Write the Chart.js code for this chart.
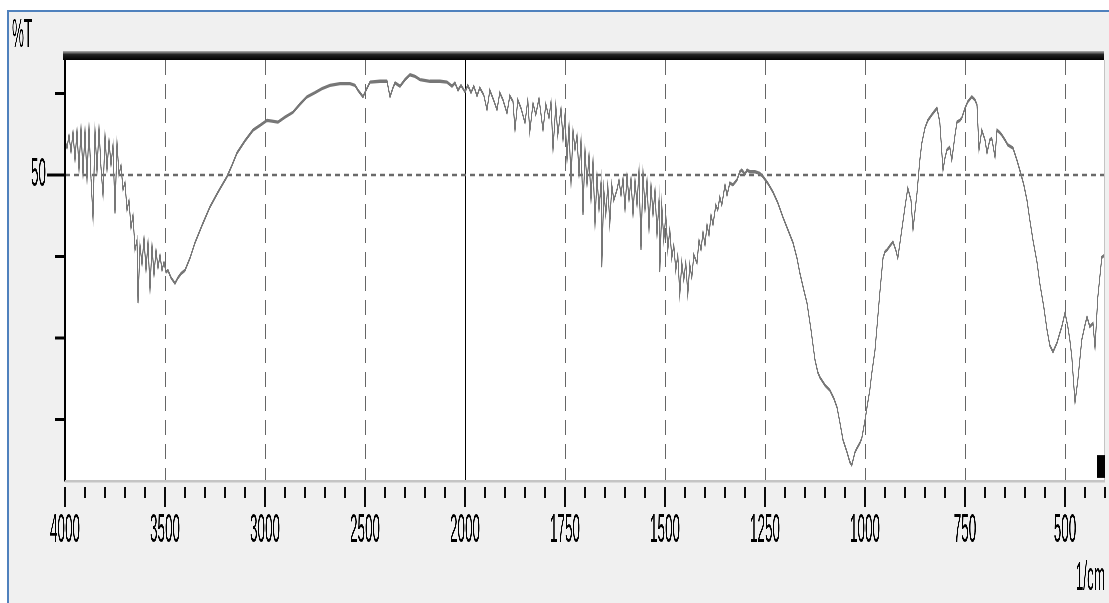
<!DOCTYPE html>
<html>
<head>
<meta charset="utf-8">
<script src="https://cdn.jsdelivr.net/npm/chart.js@4"></script>
<style>
  html, body { margin: 0; padding: 0; background: #fff; }
  #frame {
    position: absolute; left: 7px; top: 10px; right: 0; bottom: 0;
    background: #f0f0f0;
    border-left: 2px solid #4f81bd; border-top: 2px solid #4f81bd;
  }
  /* the spectrum window is drawn at 1/3 height and stretched vertically, like the reference */
  #ir { position: absolute; left: 0; top: 0; transform: scaleY(3); transform-origin: 0 0; }
</style>
</head>
<body>
<div id="frame"></div>
<canvas id="ir" width="1109" height="201"></canvas>
<script>
  // wavenumber (1/cm) and %T
  var wavenumbers = [
    4000,3990,3980,3970,3960,3950,3940,3930,3920,3910,
    3900,3890,3880,3870,3860,3850,3840,3830,3820,3810,
    3800,3790,3780,3770,3760,3750,3740,3730,3720,3710,
    3700,3690,3680,3670,3660,3650,3640,3635,3625,3615,
    3605,3595,3585,3575,3565,3555,3545,3535,3525,3515,
    3505,3495,3485,3470,3450,3435,3420,3400,3375,3350,
    3310,3275,3235,3190,3165,3140,3100,3060,3025,2990,
    2965,2935,2900,2860,2825,2790,2750,2715,2675,2625,
    2575,2550,2535,2510,2495,2475,2425,2390,2375,2360,
    2350,2325,2300,2275,2250,2225,2175,2125,2090,2065,
    2050,2035,2020,2000,
    1993,1985,1978,1970,1963,1953,1945,1938,1930,1920,
    1913,1905,1895,1888,1880,1875,1868,1860,1850,1843,
    1838,1830,1823,1815,1805,1798,1790,1785,1780,1773,
    1768,1760,1755,1750,1745,1740,1735,1730,1725,1720,
    1715,1710,1705,1700,1695,1690,1685,1680,1675,1670,
    1665,1660,1658,1653,1648,1643,1638,1633,1628,1620,
    1615,1610,1605,1600,1595,1590,1585,1580,1575,1570,
    1565,1560,1555,1550,1545,1540,1535,1530,1525,1520,
    1515,1513,1508,1503,1498,1493,1488,1483,1478,1473,
    1468,1463,1458,1453,1448,1443,1438,1433,1428,1420,
    1415,1410,1405,1400,1395,1390,1385,1380,1373,1368,
    1363,1358,1350,1345,1338,1330,1320,1313,1308,1300,
    1295,1288,1275,1263,1255,1243,1230,1218,1205,1193,
    1180,1170,1163,1153,1145,1135,1125,1118,1113,1100,
    1088,1078,1070,1063,1055,1045,1038,1033,1025,1020,
    1013,1008,1000,995,988,983,975,970,963,955,
    950,945,938,930,923,918,910,900,893,885,
    880,870,863,858,850,843,833,825,820,813,
    805,800,795,788,783,775,770,763,758,750,
    743,733,725,720,715,708,700,695,688,683,
    675,670,663,658,650,643,630,620,613,603,
    595,588,580,570,563,553,545,538,530,520,
    513,508,500,493,488,483,475,468,463,458,
    450,445,438,430,425,418,408,400
  ];
  var transmittance = [
    54.3,53.3,54.9,52.8,55.3,51.8,55.5,50.6,55.8,50.0,
    55.5,49.4,55.9,49.6,44.7,55.5,50.4,55.8,50.9,47.5,
    54.9,50.6,54.3,51.2,53.7,45.3,54.0,50.0,51.2,48.2,
    49.1,45.7,46.9,43.5,45.1,40.8,42.0,34.3,41.4,39.0,
    42.3,38.3,41.8,35.9,41.4,37.7,40.8,38.6,40.2,38.3,
    39.3,38.1,38.3,37.4,36.7,37.4,37.9,38.3,39.8,41.7,
    44.1,46.1,47.9,49.8,51.2,52.7,54.2,55.5,56.1,56.7,
    56.6,56.5,57.1,57.7,58.7,59.6,60.1,60.6,61.0,61.2,
    61.2,61.0,60.4,59.6,60.4,61.4,61.5,61.5,59.6,60.7,
    61.3,60.9,61.7,62.3,62.1,61.7,61.5,61.5,61.4,60.9,
    61.3,60.4,61.0,60.2,
    61.0,60.1,60.9,59.7,60.7,59.8,58.0,60.4,59.4,58.0,
    60.1,59.2,57.6,59.7,59.0,55.5,59.2,58.2,56.4,59.2,
    55.3,58.8,57.4,59.4,55.5,58.7,57.0,59.0,53.1,58.6,
    54.9,58.2,54.3,57.4,51.8,56.1,49.0,55.5,53.1,54.9,
    50.0,54.3,45.1,53.1,48.8,52.5,46.9,51.8,43.9,50.0,
    45.7,49.1,38.7,48.2,45.1,48.8,43.9,48.8,46.9,48.2,
    49.4,47.5,49.6,45.7,50.0,46.9,49.6,45.1,49.4,46.3,
    50.6,40.8,50.4,45.7,49.4,43.3,48.8,45.1,48.2,42.6,
    46.9,38.1,46.3,42.0,45.1,40.8,43.3,39.8,41.4,38.3,
    40.2,35.3,39.3,37.1,39.3,35.3,39.0,37.4,40.2,39.2,
    42.0,40.8,43.0,41.4,43.9,42.6,45.1,43.9,46.3,45.7,
    47.3,46.3,48.8,47.5,49.0,48.8,49.4,50.4,50.6,50.1,
    50.6,50.4,50.4,50.2,49.8,49.0,47.9,46.6,44.8,43.3,
    41.7,39.8,38.0,35.9,34.3,31.0,27.3,25.8,25.2,24.2,
    23.6,22.6,21.5,19.7,17.5,16.0,14.8,14.4,16.0,16.5,
    17.1,17.7,19.9,21.5,23.6,25.7,28.5,31.4,35.5,39.8,
    40.6,40.8,41.3,41.8,40.8,39.8,42.6,46.1,48.4,46.9,
    43.3,47.8,51.8,53.9,55.8,56.7,57.4,57.9,58.2,56.5,
    50.6,52.1,53.1,53.4,51.8,54.9,56.5,56.7,57.0,58.2,
    59.0,59.6,59.2,58.6,53.1,55.5,54.3,52.7,54.3,54.5,
    52.2,55.5,55.2,54.9,54.3,53.7,53.3,51.8,50.6,48.8,
    46.9,44.5,42.0,39.3,36.7,33.8,31.0,29.1,28.3,29.4,
    30.6,31.4,33.1,31.4,29.8,27.7,22.1,24.8,27.3,29.8,
    31.6,32.6,31.4,31.8,28.8,35.0,39.9,40.2
  ];

  var xTickLabels = [4000, 3500, 3000, 2500, 2000, 1750, 1500, 1250, 1000, 750, 500];
  var yTickValues = [60, 50, 40, 30, 20];
  var yLabelled = 50;

  // the instrument compresses 4000-2000 at half the scale of 2000-400
  function toPos(w) { return w >= 2000 ? (4000 - w) / 5 : 400 + (2000 - w) / 2.5; }
  function fromPos(p) { return p <= 400 ? 4000 - p * 5 : 2000 - (p - 400) * 2.5; }

  var points = wavenumbers.map(function (w, i) { return { x: toPos(w), y: transmittance[i] }; });
  var labelFont = { family: '"Liberation Sans", Arial, sans-serif', size: 13.5 };

  var irFrame = {
    id: 'irFrame',
    beforeDatasetsDraw: function (chart) {
      var ctx = chart.ctx, a = chart.chartArea, x = chart.scales.x, y = chart.scales.y;
      ctx.save();
      ctx.fillStyle = '#ffffff';
      ctx.fillRect(a.left, a.top, a.right - a.left, a.bottom - a.top);

      ctx.lineWidth = 1.2;
      xTickLabels.forEach(function (w) {
        if (w === 4000) return;
        var px = Math.round(x.getPixelForValue(toPos(w))) + 0.5;
        ctx.beginPath();
        if (w === 2000) { ctx.setLineDash([]); ctx.strokeStyle = '#000'; }
        else { ctx.setLineDash([5, 3]); ctx.strokeStyle = '#666'; }
        ctx.moveTo(px, a.top);
        ctx.lineTo(px, a.bottom);
        ctx.stroke();
      });

      var py = y.getPixelForValue(yLabelled);
      ctx.setLineDash([5, 4]);
      ctx.strokeStyle = '#6a6a6a';
      ctx.lineWidth = 0.9;
      ctx.beginPath();
      ctx.moveTo(a.left, py);
      ctx.lineTo(a.right, py);
      ctx.stroke();
      ctx.restore();
    },
    afterDraw: function (chart) {
      var ctx = chart.ctx, a = chart.chartArea, x = chart.scales.x, y = chart.scales.y;
      ctx.save();

      // thick top rule
      var g = ctx.createLinearGradient(0, a.top - 3, 0, a.top);
      g.addColorStop(0, '#b0b0b0');
      g.addColorStop(0.4, '#202020');
      g.addColorStop(1, '#000000');
      ctx.fillStyle = g;
      ctx.fillRect(a.left - 2, a.top - 3, a.right - a.left + 1, 3);

      // left, bottom and right edges
      ctx.strokeStyle = '#000';
      ctx.lineWidth = 1.5;
      ctx.beginPath();
      ctx.moveTo(a.left, a.top);
      ctx.lineTo(a.left, a.bottom + 0.5);
      ctx.stroke();
      ctx.strokeStyle = '#c4c4c4';
      ctx.lineWidth = 0.8;
      ctx.beginPath();
      ctx.moveTo(a.left, a.bottom + 0.4);
      ctx.lineTo(a.right, a.bottom + 0.4);
      ctx.moveTo(a.right - 0.5, a.top);
      ctx.lineTo(a.right - 0.5, a.bottom);
      ctx.stroke();

      // x tick marks: major at every label, minor every fifth of a division
      ctx.strokeStyle = '#000';
      ctx.lineWidth = 1.3;
      ctx.beginPath();
      for (var p = 0; p <= 1040; p += 20) {
        var px = x.getPixelForValue(p);
        var major = p % 100 === 0 && p <= 1000;
        ctx.moveTo(px, a.bottom + 2.3);
        ctx.lineTo(px, a.bottom + (major ? 9 : 6));
      }
      ctx.stroke();

      // y tick marks
      ctx.lineWidth = 1;
      ctx.beginPath();
      yTickValues.forEach(function (v) {
        var py = y.getPixelForValue(v);
        ctx.moveTo(v === yLabelled ? a.left - 18 : a.left - 10, py);
        ctx.lineTo(a.left - 1, py);
      });
      ctx.stroke();

      // cursor marker in the corner
      ctx.fillStyle = '#000';
      ctx.fillRect(a.right - 8, a.bottom - 8.3, 8, 7.6);

      ctx.font = '13.5px "Liberation Sans", Arial, sans-serif';
      ctx.fillStyle = '#000';
      ctx.textAlign = 'left';
      ctx.textBaseline = 'alphabetic';
      ctx.fillText('%T', 12, 15.5);
      ctx.textAlign = 'right';
      ctx.fillText('1/cm', a.right, 196.5);
      ctx.restore();
    }
  };

  var ctx = document.getElementById('ir').getContext('2d');

  var chart = new Chart(ctx, {
    type: 'line',
    data: {
      datasets: [{
        data: points,
        borderColor: '#777777',
        borderWidth: 1.1,
        pointRadius: 0,
        tension: 0,
        fill: false
      }]
    },
    options: {
      responsive: false,
      animation: false,
      devicePixelRatio: 3,
      layout: { padding: { top: 20, right: 4, bottom: 0, left: 0 } },
      plugins: { legend: { display: false }, tooltip: { enabled: false } },
      scales: {
        x: {
          type: 'linear',
          min: 0,
          max: 1040,
          afterFit: function (s) {
            s.height = 41;
            s.paddingLeft = 0;
            s.paddingRight = 0;
          },
          afterBuildTicks: function (s) {
            s.ticks = xTickLabels.map(function (w) { return { value: toPos(w) }; });
          },
          grid: { display: false, drawTicks: false },
          border: { display: false },
          ticks: {
            autoSkip: false,
            maxRotation: 0,
            padding: 9,
            color: '#000',
            font: labelFont,
            callback: function (v) { return String(fromPos(v)); }
          }
        },
        y: {
          min: 12.58,
          max: 64.11,
          afterFit: function (s) {
            s.width = 65;
            s.paddingTop = 0;
            s.paddingBottom = 0;
          },
          afterBuildTicks: function (s) {
            s.ticks = yTickValues.map(function (v) { return { value: v }; });
          },
          grid: { display: false, drawTicks: false },
          border: { display: false },
          ticks: {
            padding: 19,
            color: '#000',
            font: labelFont,
            callback: function (v) { return v === yLabelled ? String(v) : ''; }
          }
        }
      }
    },
    plugins: [irFrame]
  });
</script>
</body>
</html>
